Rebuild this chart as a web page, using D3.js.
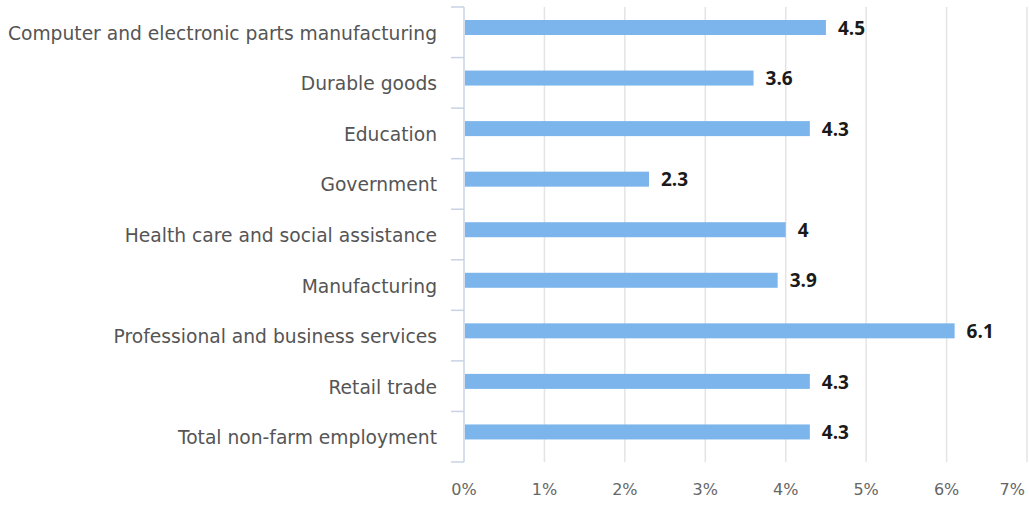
<!DOCTYPE html>
<html>
<head>
<meta charset="utf-8">
<script src="https://cdn.jsdelivr.net/npm/d3@7"></script>
<style>
  html, body { margin: 0; padding: 0; background: #ffffff; }
  svg { display: block; }
</style>
</head>
<body>
<svg id="chart" width="1029" height="508"></svg>
<script>
// Employment growth by sector (%)
const categories = [
  "Computer and electronic parts manufacturing",
  "Durable goods",
  "Education",
  "Government",
  "Health care and social assistance",
  "Manufacturing",
  "Professional and business services",
  "Retail trade",
  "Total non-farm employment"
];
const values = [4.5, 3.6, 4.3, 2.3, 4, 3.9, 6.1, 4.3, 4.3];
const xTicks = [0, 1, 2, 3, 4, 5, 6, 7];

const svg = d3.select("#chart");
const plotLeft = 464, plotRight = 1027, plotTop = 7, plotBottom = 462;

const x = d3.scaleLinear().domain([0, 7]).range([plotLeft, plotRight]);
const y = d3.scaleBand().domain(categories).range([plotTop, plotBottom]);

const font = "'DejaVu Sans', Verdana, sans-serif";

// vertical gridlines
svg.append("g")
  .selectAll("line")
  .data(xTicks.slice(1))
  .join("line")
  .attr("x1", d => x(d)).attr("x2", d => x(d))
  .attr("y1", plotTop).attr("y2", plotBottom)
  .attr("stroke", "#e4e4e4")
  .attr("stroke-width", 1.5);

// category axis with ticks at band edges
const edges = categories.map(c => y(c)).concat([plotBottom]);
svg.append("g")
  .selectAll("line")
  .data(edges)
  .join("line")
  .attr("x1", plotLeft - 13).attr("x2", plotLeft)
  .attr("y1", d => d).attr("y2", d => d)
  .attr("stroke", "#c8d2e4")
  .attr("stroke-width", 1.5);
svg.append("line")
  .attr("x1", plotLeft).attr("x2", plotLeft)
  .attr("y1", plotTop).attr("y2", plotBottom)
  .attr("stroke", "#c8d2e4")
  .attr("stroke-width", 1.5);

// category labels, centred on each band
svg.append("g")
  .selectAll("text")
  .data(categories)
  .join("text")
  .attr("x", plotLeft - 27)
  .attr("y", d => y(d) + y.bandwidth() / 2 + 1)
  .attr("dy", "0.35em")
  .attr("text-anchor", "end")
  .attr("font-family", font)
  .attr("font-size", 18.7)
  .attr("fill", "#555555")
  .text(d => d);

// bars
const barH = 15;
svg.append("g")
  .selectAll("rect")
  .data(categories)
  .join("rect")
  .attr("x", x(0) + 1)
  .attr("y", d => y(d) + 13)
  .attr("width", (d, i) => x(values[i]) - x(0) - 1)
  .attr("height", barH)
  .attr("fill", "#7cb5ec");

// value labels
svg.append("g")
  .selectAll("text")
  .data(categories)
  .join("text")
  .attr("x", (d, i) => x(values[i]) + 12)
  .attr("y", d => y(d) + 21)
  .attr("dy", "0.35em")
  .attr("font-family", "'Open Sans', 'DejaVu Sans', sans-serif")
  .attr("font-size", 19)
  .attr("font-weight", "bold")
  .attr("fill", "#1a1a1a")
  .text((d, i) => values[i]);

// x tick labels; the last one is pulled inside the right edge
svg.append("g")
  .selectAll("text")
  .data(xTicks)
  .join("text")
  .attr("x", (d, i) => i === xTicks.length - 1 ? plotRight - 2 : x(d))
  .attr("y", 489)
  .attr("dy", "0.35em")
  .attr("text-anchor", (d, i) => i === xTicks.length - 1 ? "end" : "middle")
  .attr("font-family", font)
  .attr("font-size", 16)
  .attr("fill", "#666666")
  .text(d => d + "%");
</script>
</body>
</html>
